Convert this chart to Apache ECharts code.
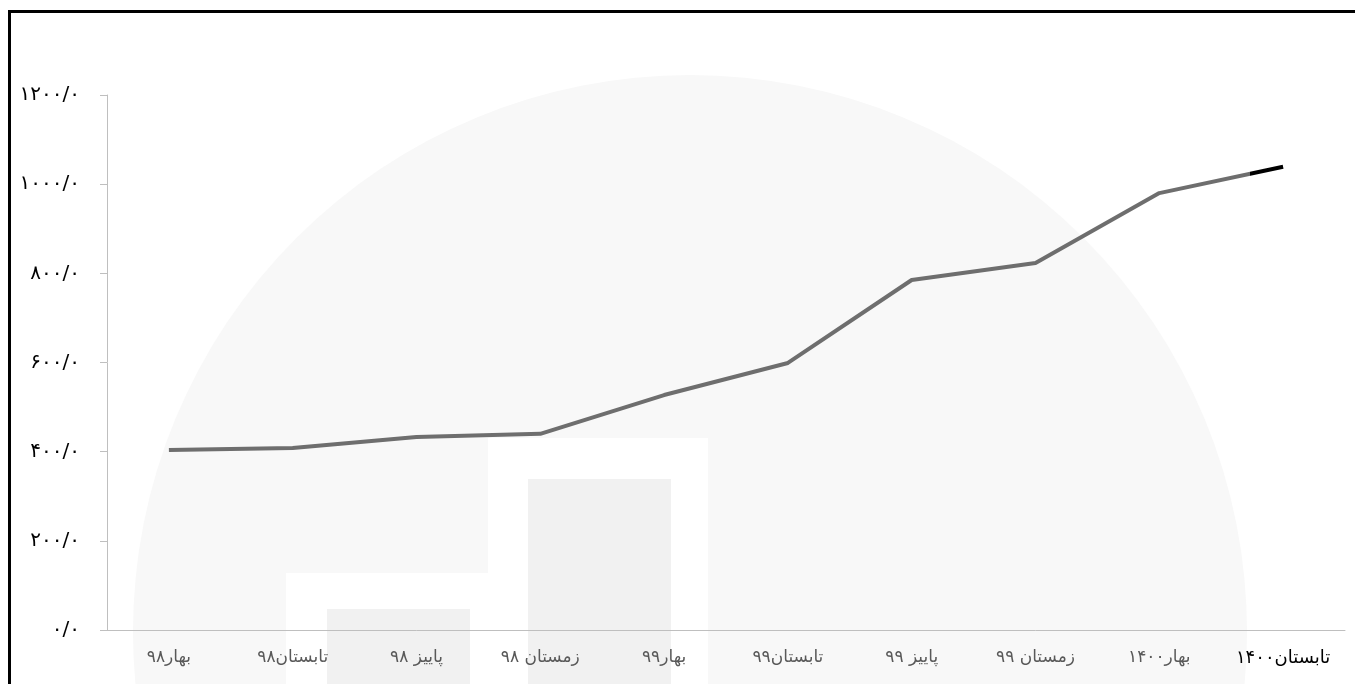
<!DOCTYPE html>
<html>
<head>
<meta charset="utf-8">
<script src="https://cdn.jsdelivr.net/npm/echarts@6/dist/echarts.min.js"></script>
<style>
  html, body { margin: 0; padding: 0; background: #fff; }
  #main { width: 1355px; height: 684px; }
</style>
</head>
<body>
<div id="main"></div>
<script>
// فصل ها
var categories = ['بهار۹۸', 'تابستان۹۸', 'پاییز ۹۸', 'زمستان ۹۸', 'بهار۹۹', 'تابستان۹۹', 'پاییز ۹۹', 'زمستان ۹۹', 'بهار۱۴۰۰', 'تابستان۱۴۰۰']
var values = [404, 408, 433, 440, 527, 599, 785, 823, 980, 1039]
var yTicks = [0, 200, 400, 600, 800, 1000, 1200]

function faDigits(n) {
  return String(n).replace(/[0-9]/g, function (d) { return '۰۱۲۳۴۵۶۷۸۹'[d] })
}

var myChart = echarts.init(document.getElementById('main'))

myChart.setOption({
  backgroundColor: '#fff',
  animation: false,
  graphic: [
    // watermark
    { type: 'circle', z: -10, shape: { cx: 690, cy: 632, r: 557 }, style: { fill: '#f8f8f8' } },
    { type: 'rect', z: -9, shape: { x: 286, y: 573, width: 205, height: 120 }, style: { fill: '#fff' } },
    { type: 'rect', z: -9, shape: { x: 488, y: 438, width: 220, height: 260 }, style: { fill: '#fff' } },
    { type: 'rect', z: -8, shape: { x: 327, y: 609, width: 143, height: 90 }, style: { fill: '#f1f1f1' } },
    { type: 'rect', z: -8, shape: { x: 528, y: 479, width: 143, height: 220 }, style: { fill: '#f1f1f1' } },
    // frame
    { type: 'rect', z: 10, shape: { x: 9.5, y: 11.5, width: 1500, height: 800 }, style: { fill: null, stroke: '#000', lineWidth: 3 } }
  ],
  grid: { left: 107, right: 10, top: 95, bottom: 54 },
  xAxis: {
    type: 'category',
    data: categories,
    boundaryGap: true,
    axisLine: { lineStyle: { color: '#bfbfbf', width: 1 } },
    axisTick: { length: 7, lineStyle: { color: '#bfbfbf' } },
    axisLabel: {
      margin: 19,
      fontSize: 17,
      color: '#595959',
      fontFamily: 'DejaVu Sans',
      interval: 0,
      formatter: function (v, i) { return i === categories.length - 1 ? '{hl|' + v + '}' : v },
      rich: { hl: { color: '#000', fontSize: 18, fontFamily: 'DejaVu Sans' } }
    },
    splitLine: { show: false }
  },
  yAxis: {
    type: 'value',
    min: yTicks[0],
    max: yTicks[yTicks.length - 1],
    interval: 200,
    axisLine: { show: true, lineStyle: { color: '#bfbfbf', width: 1 } },
    axisTick: { show: true, length: 7, lineStyle: { color: '#bfbfbf' } },
    axisLabel: {
      margin: 27,
      fontSize: 20,
      color: '#000',
      fontFamily: 'DejaVu Sans',
      formatter: function (v) { return faDigits(v) + '/۰' }
    },
    splitLine: { show: false }
  },
  series: [{
    type: 'line',
    data: values,
    symbol: 'none',
    lineStyle: {
      width: 4,
      color: new echarts.graphic.LinearGradient(0, 0, 1, 0, [
        { offset: 0, color: '#6e6e6e' },
        { offset: 0.968, color: '#6e6e6e' },
        { offset: 0.968, color: '#000' },
        { offset: 1, color: '#000' }
      ])
    }
  }]
})
</script>
</body>
</html>
